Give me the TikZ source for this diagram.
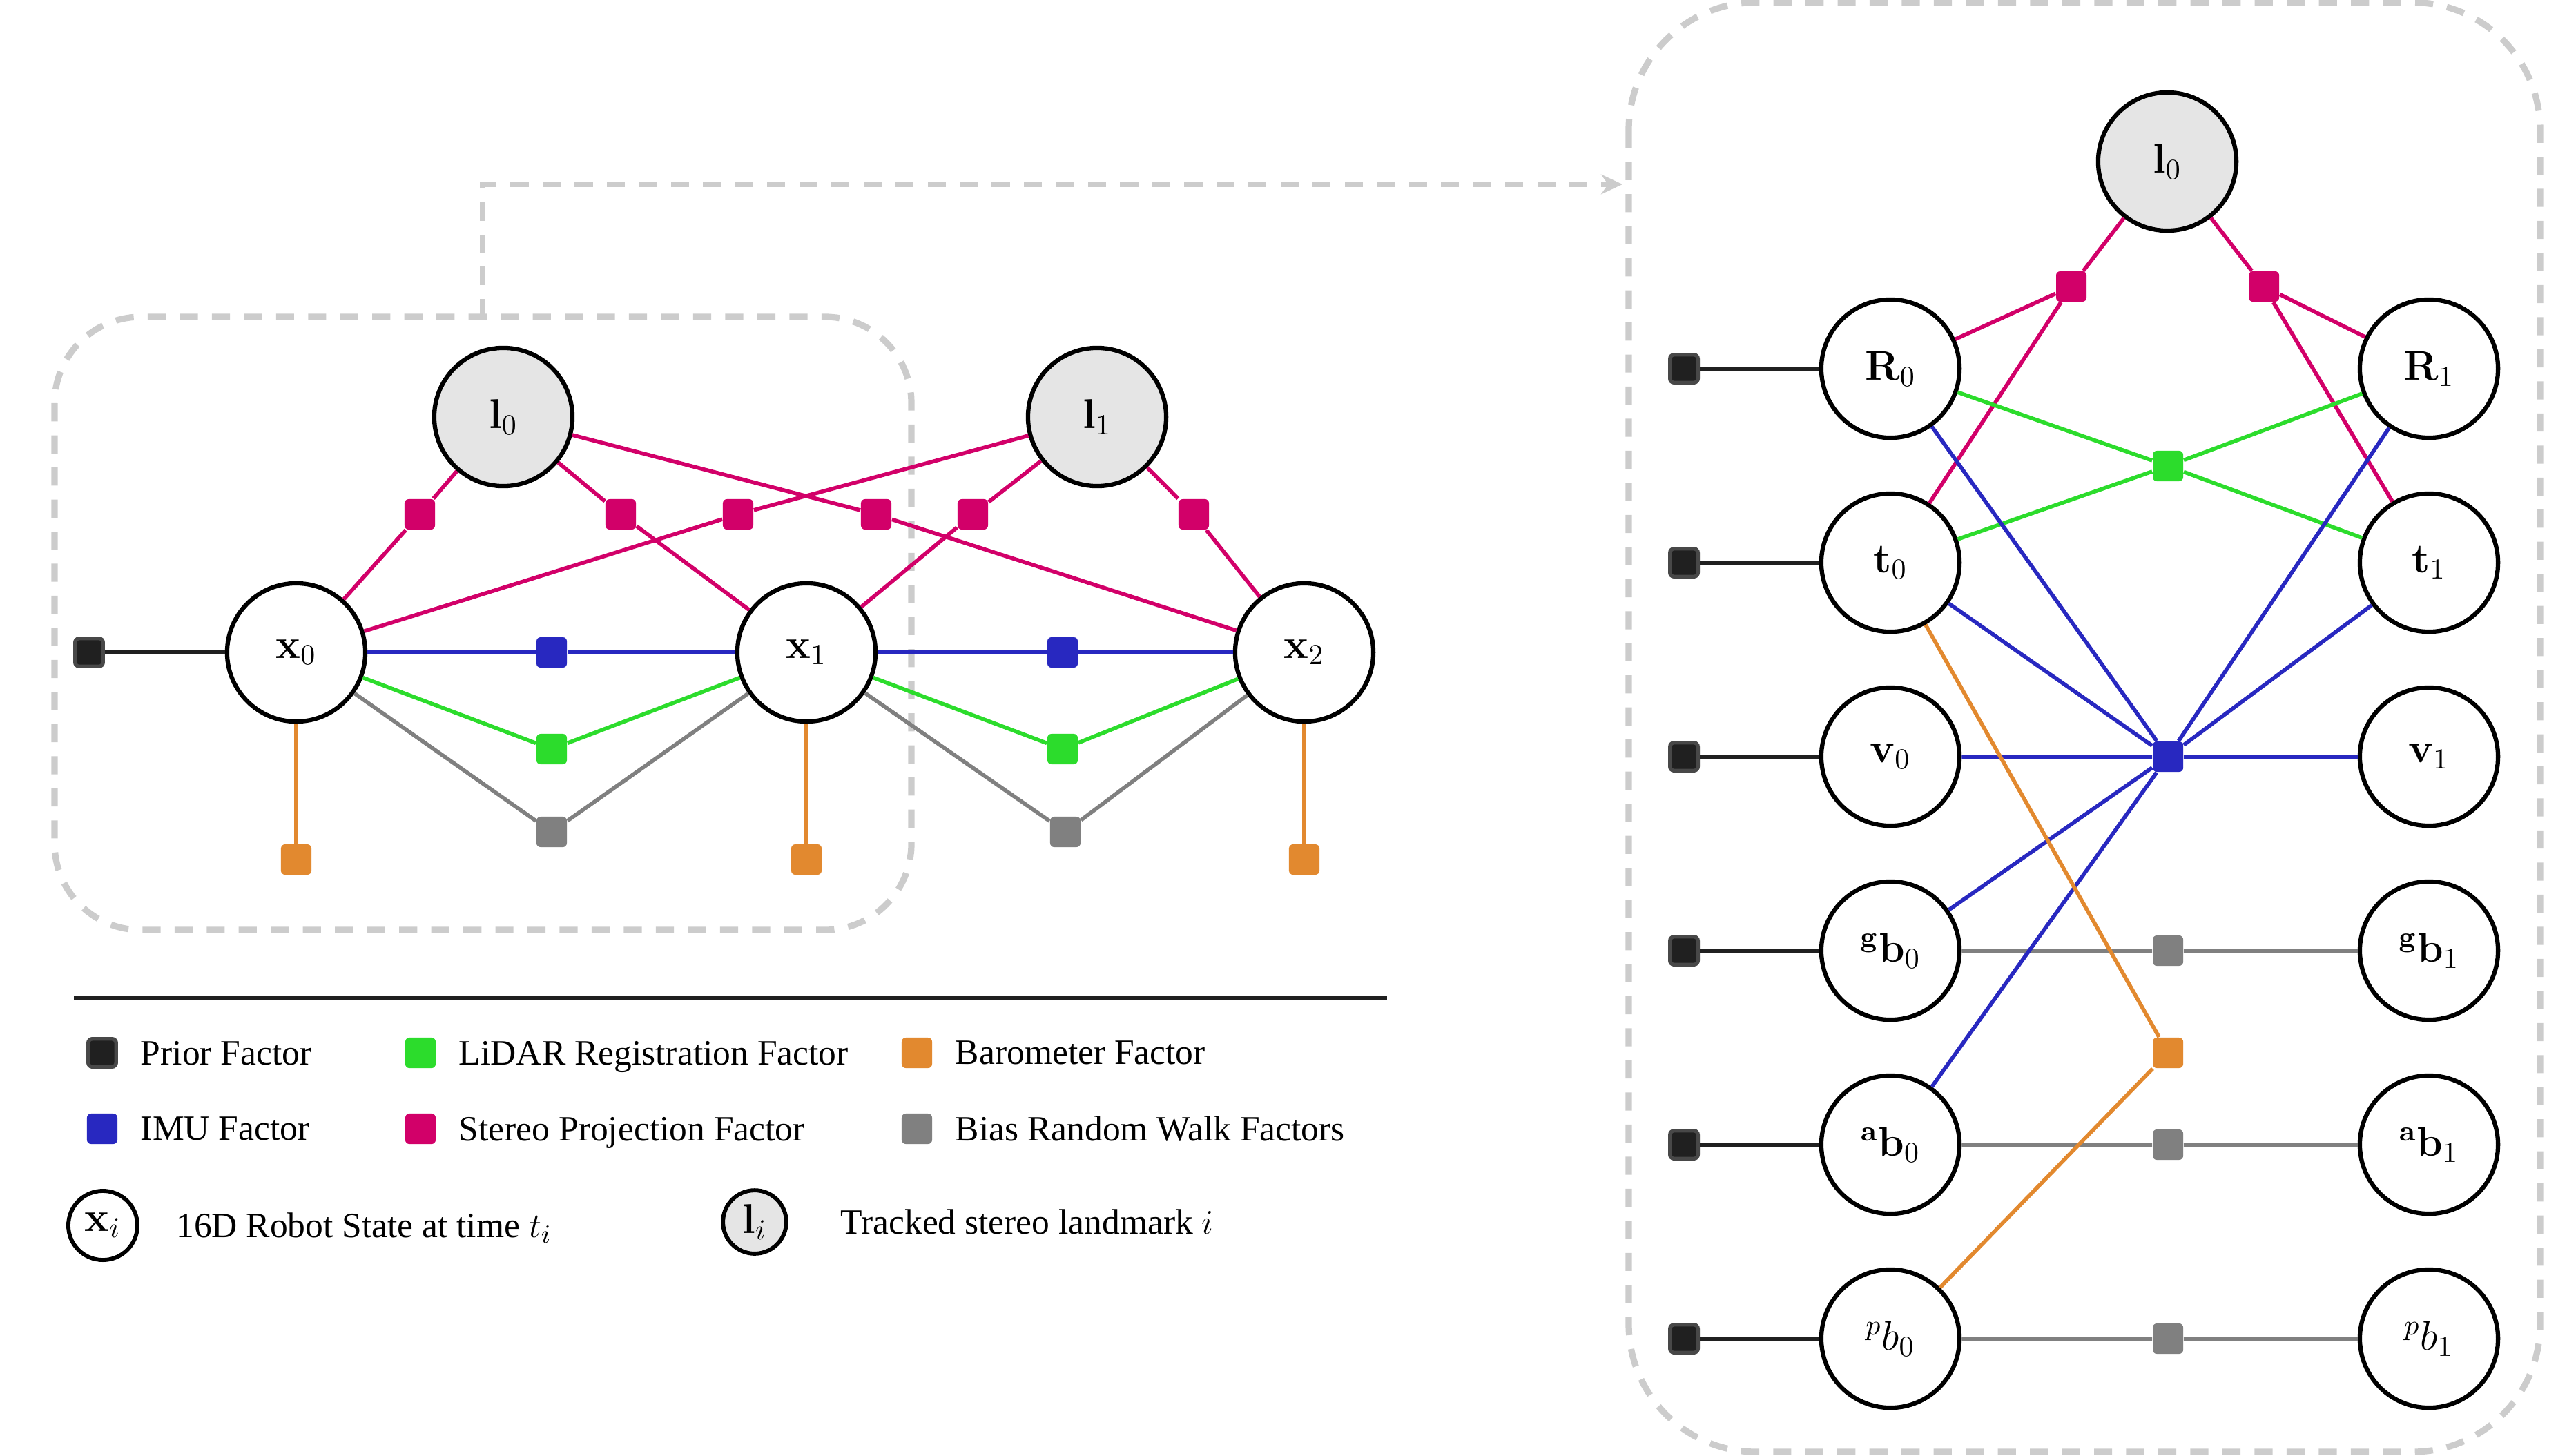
\documentclass[tikz,border=0pt]{standalone}
\usepackage[no-math]{fontspec}
\setmainfont{Liberation Serif}
\usepackage{amssymb,amsfonts}
\usetikzlibrary{arrows.meta,positioning}

\definecolor{prjcol}{RGB}{210,0,105}
\definecolor{lidcol}{RGB}{44,220,44}
\definecolor{imucol}{RGB}{40,40,192}
\definecolor{barcol}{RGB}{226,137,47}
\definecolor{biascol}{RGB}{128,128,128}
\definecolor{boxcol}{RGB}{204,204,204}
\definecolor{lmkcol}{RGB}{229,229,229}
\definecolor{priorcol}{RGB}{32,32,32}
\definecolor{priorrim}{RGB}{72,72,72}

\begin{document}
\begin{tikzpicture}[x=0.8392cm,y=-0.8392cm,
  var/.style={circle,draw,line width=1.5pt,minimum size=1.68cm,inner sep=0pt,
    font=\fontsize{14}{16}\selectfont},
  lmk/.style={var,fill=lmkcol},
  fac/.style={rectangle,rounded corners=0.05cm,minimum size=0.37cm,inner sep=0pt,fill=#1},
  pri/.style={fac=priorcol,draw=priorrim,line width=1.3pt,minimum size=0.34cm},
  con/.style={line width=1.35pt,draw=#1},
  zoombox/.style={draw=boxcol,line width=2.2pt,dash pattern=on 0.22cm off 0.17cm},
  lab/.style={anchor=west,inner sep=0pt,text depth=0pt,font=\fontsize{12.3}{14}\selectfont}]
  \useasboundingbox (0,0) rectangle (37.18,21.08);
  % windows
  \draw[zoombox,rounded corners=1.05cm](0.79,4.59) rectangle (13.20,13.47);
  \draw[zoombox,rounded corners=1.55cm](23.59,0.035) rectangle (36.79,21.03);
  \coordinate(wfrom) at (6.99,4.59);
  \coordinate(wto) at (23.50,2.67);
  \draw[zoombox,line width=1.8pt,-{Stealth[length=0.26cm,width=0.24cm]}](wfrom)|-(wto);

  % full states
  \node[lmk](l0) at (7.29,6.04) {$\mathbf{l}_0$};
  \node[lmk](l1) at (15.89,6.04) {$\mathbf{l}_1$};
  \node[var](x0) at (4.29,9.45) {$\mathbf{x}_0$};
  \node[var](x1) at (11.68,9.45) {$\mathbf{x}_1$};
  \node[var](x2) at (18.89,9.45) {$\mathbf{x}_2$};
  \node[pri](p0) at (1.29,9.45) {};
  \draw[con=priorcol](p0)--(x0);
  \foreach \n/\px in {0/4.29,1/11.68,2/18.89}{
    \node[fac=barcol](b\n) at (\px,12.45) {};
    \draw[con=barcol](x\n)--(b\n);
  }
  \node[fac=imucol](i1) at (7.99,9.45) {};
  \node[fac=imucol](i2) at (15.39,9.45) {};
  \node[fac=lidcol](c1) at (7.99,10.85) {};
  \node[fac=lidcol](c2) at (15.39,10.85) {};
  \node[fac=biascol](r1) at (7.99,12.05) {};
  \node[fac=biascol](r2) at (15.43,12.05) {};
  \draw[con=imucol](x0)--(i1)--(x1);
  \draw[con=imucol](x1)--(i2)--(x2);
  \draw[con=lidcol](x0)--(c1)--(x1);
  \draw[con=lidcol](x1)--(c2)--(x2);
  \draw[con=biascol](x0)--(r1)--(x1);
  \draw[con=biascol](x1)--(r2)--(x2);
  \foreach \k/\px/\lm/\xs in {1/6.08/l0/x0,2/8.99/l0/x1,3/10.69/l1/x0,
    4/12.69/l0/x2,5/14.09/l1/x1,6/17.29/l1/x2}{
    \node[fac=prjcol](f\k) at (\px,7.45) {};
    \draw[con=prjcol](\lm)--(f\k)--(\xs);
  }

  % split states
  \node[lmk](L0) at (31.39,2.34) {$\mathbf{l}_0$};
  \foreach \nm/\sym [count=\k from 0] in {R/\mathbf{R},t/\mathbf{t},v/\mathbf{v},
    gb/{}^{\mathbf{g}}\mathbf{b},ab/{}^{\mathbf{a}}\mathbf{b},pb/{}^{p}b}{
    \pgfmathsetmacro\yy{5.34+2.81*\k}
    \node[var](\nm0) at (27.38,\yy) {$\sym_0$};
    \node[var](\nm1) at (35.18,\yy) {$\sym_1$};
    \node[pri](q\nm) at (24.39,\yy) {};
    \draw[con=priorcol](q\nm)--(\nm0);
  }
  \foreach \nm/\yy in {gb/13.77,ab/16.58,pb/19.39}{
    \node[fac=biascol](w\nm) at (31.40,\yy) {};
    \draw[con=biascol](\nm0)--(w\nm)--(\nm1);
  }
  \node[fac=prjcol](s0) at (30.00,4.15) {};
  \node[fac=prjcol](s1) at (32.79,4.15) {};
  \draw[con=prjcol](L0)--(s0)--(R0);
  \draw[con=prjcol](s0)--(t0);
  \draw[con=prjcol](L0)--(s1)--(R1);
  \draw[con=prjcol](s1)--(t1);
  \node[fac=lidcol](g) at (31.40,6.75) {};
  \foreach \v in {R0,t0,R1,t1} \draw[con=lidcol](g)--(\v);
  \node[fac=imucol](m) at (31.40,10.96) {};
  \foreach \v in {R0,t0,v0,gb0,ab0,R1,t1,v1} \draw[con=imucol](m)--(\v);
  \node[fac=barcol](o) at (31.40,15.25) {};
  \draw[con=barcol](t0)--(o)--(pb0);

  % legend
  \draw[line width=1.5pt,priorcol](1.07,14.45)--(20.09,14.45);
  \node[pri](kp) at (1.48,15.25) {};
  \node[lab,right=0.27cm of kp](kpt) {Prior Factor};
  \node[fac=lidcol](kc) at (6.09,15.25) {};
  \node[lab,right=0.27cm of kc](kct) {LiDAR Registration Factor};
  \node[fac=barcol](kb) at (13.28,15.25) {};
  \node[lab,right=0.27cm of kb](kbt) {Barometer Factor};
  \node[fac=imucol](ki) at (1.48,16.35) {};
  \node[lab,right=0.27cm of ki](kit) {IMU Factor};
  \node[fac=prjcol](ks) at (6.09,16.35) {};
  \node[lab,right=0.27cm of ks](kst) {Stereo Projection Factor};
  \node[fac=biascol](kr) at (13.28,16.35) {};
  \node[lab,right=0.27cm of kr](krt) {Bias Random Walk Factors};
  \node[var,minimum size=0.84cm,line width=1.4pt](kx) at (1.49,17.75) {$\mathbf{x}_i$};
  \node[lab,right=0.44cm of kx](kxt) {16D Robot State at time $t_i$};
  \node[lmk,minimum size=0.77cm,line width=1.4pt](kl) at (10.93,17.70) {$\mathbf{l}_i$};
  \node[lab,right=0.63cm of kl](klt) {Tracked stereo landmark $i$};
\end{tikzpicture}
\end{document}
